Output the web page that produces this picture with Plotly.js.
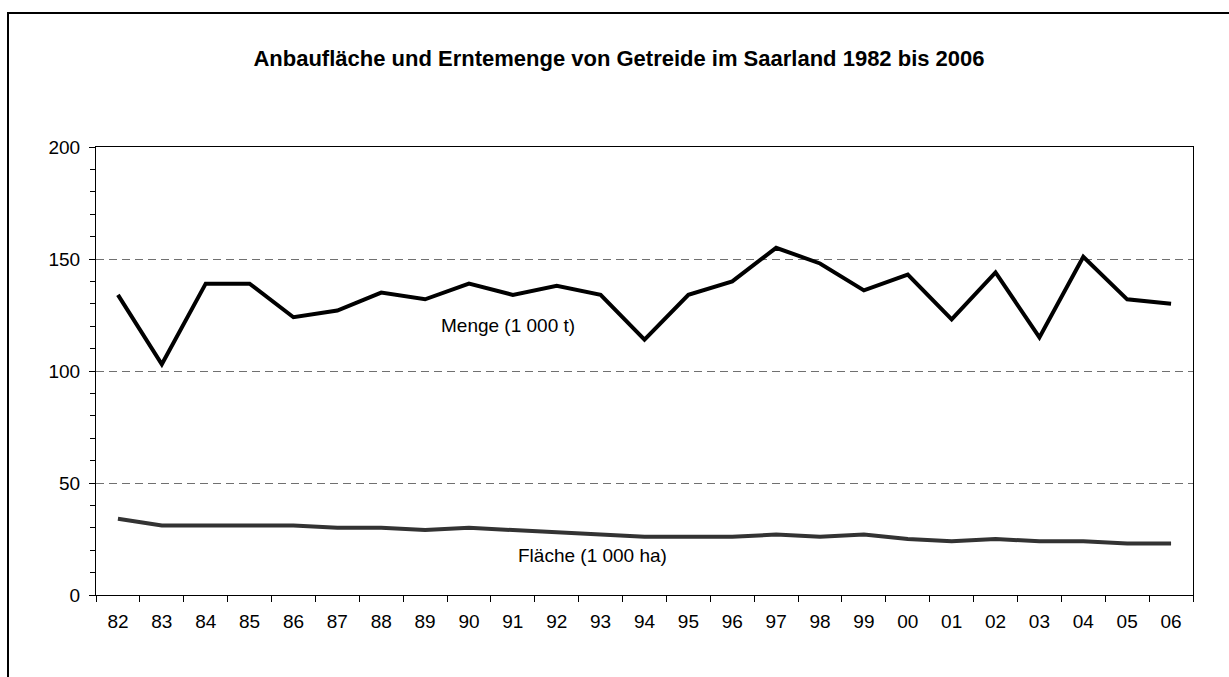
<!DOCTYPE html>
<html>
<head>
<meta charset="utf-8">
<script src="https://cdn.plot.ly/plotly-3.0.1.min.js"></script>
<style>html,body{margin:0;padding:0;background:#fff;}#chart{width:1229px;height:677px;}</style>
</head>
<body>
<div id="chart"></div>
<script>
const years = ["82","83","84","85","86","87","88","89","90","91","92","93","94","95","96","97","98","99","00","01","02","03","04","05","06"];
const menge = [134,103,139,139,124,127,135,132,139,134,138,134,114,134,140,155,148,136,143,123,144,115,151,132,130];
const flaeche = [34,31,31,31,31,30,30,29,30,29,28,27,26,26,26,27,26,27,25,24,25,24,24,23,23];
const titleText = "Anbaufläche und Erntemenge von Getreide im Saarland 1982 bis 2006";
const mengeLabel = "Menge (1 000 t)";
const flaecheLabel = "Fläche (1 000 ha)";

const FONT = "Liberation Sans, Arial, sans-serif";

const traces = [
  {x: years, y: menge, type: "scatter", mode: "lines", line: {color: "#000000", width: 4}, hoverinfo: "skip"},
  {x: years, y: flaeche, type: "scatter", mode: "lines", line: {color: "#333333", width: 4}, hoverinfo: "skip"}
];

const layout = {
  width: 1229, height: 677,
  margin: {l: 96, r: 36, t: 147, b: 82},
  paper_bgcolor: "#ffffff", plot_bgcolor: "#ffffff",
  showlegend: false,
  font: {family: FONT, color: "#000000", size: 19},
  title: {text: "<b>" + titleText + "</b>", font: {family: FONT, size: 22, color: "#000"}, x: 619/1229, xref: "container", xanchor: "center", y: 1 - 58/677, yref: "container", yanchor: "middle"},
  xaxis: {
    type: "category", showline: true, linecolor: "#000", linewidth: 1, mirror: true,
    ticks: "outside", tickson: "boundaries", ticklen: 6, tickcolor: "#000", tickwidth: 1,
    ticklabelstandoff: 9,
    showgrid: false, zeroline: false, tickfont: {family: FONT, size: 19, color: "#000"},
    range: [-0.5, 24.5], fixedrange: true
  },
  yaxis: {
    range: [0, 200], dtick: 50, tick0: 0, showline: true, linecolor: "#000", linewidth: 1, mirror: true,
    ticks: "outside", ticklen: 6, tickcolor: "#000", tickwidth: 1,
    ticklabelstandoff: 5,
    showgrid: true, gridcolor: "#707070", gridwidth: 1, griddash: "8px,5px",
    zeroline: false, tickfont: {family: FONT, size: 19, color: "#000"},
    minor: {dtick: 10, ticks: "outside", ticklen: 5, tickcolor: "#000", showgrid: false},
    fixedrange: true
  },
  annotations: [
    {text: mengeLabel, xref: "paper", yref: "y", x: (508-96)/1097, y: (595-325)/2.24, showarrow: false, font: {family: FONT, size: 19, color: "#000"}},
    {text: flaecheLabel, xref: "paper", yref: "y", x: (592.5-96)/1097, y: (595-555)/2.24, showarrow: false, font: {family: FONT, size: 19, color: "#000"}}
  ],
  shapes: [
    {type: "rect", xref: "paper", yref: "paper", x0: (8-96)/1097, x1: 1.2, y0: -0.5, y1: (595-13)/448,
     line: {color: "#000", width: 2}, fillcolor: "rgba(0,0,0,0)", layer: "below"}
  ]
};

Plotly.newPlot("chart", traces, layout, {staticPlot: true, displayModeBar: false});
</script>
</body>
</html>
